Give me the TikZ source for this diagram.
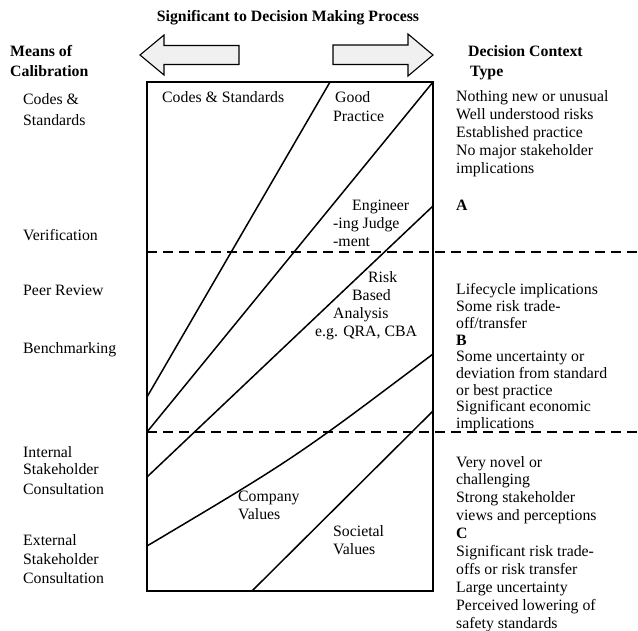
\documentclass[tikz,border=0pt]{standalone}
\usepackage{fontspec}
\setmainfont{Liberation Serif}
\begin{document}
\begin{tikzpicture}[x=1pt,y=-1pt,
  txt/.style={anchor=base west,inner sep=0pt,font=\fontsize{15.8}{18}\selectfont},
  hdr/.style={txt,font=\fontsize{15.8}{18}\selectfont\bfseries},
  frame/.style={line width=1.6pt},
  band/.style={line width=1.5pt},
  divider/.style={line width=1.5pt,dash pattern=on 10pt off 6pt},
  bigarrow/.style={draw,line width=1.1pt,fill=gray!12,line join=miter}]
\useasboundingbox (0,0) rectangle (638,631);

% title and the two direction arrows
\node[hdr,anchor=base] (title) at (288,22) {Significant to Decision Making Process};
\draw[bigarrow] (140,55) -- (164,35) -- (164,45.5) -- (239,45.5) -- (239,64.5)
  -- (164,64.5) -- (164,75) -- cycle;
\draw[bigarrow] (433,55) -- (408,34) -- (408,45) -- (333,45) -- (333,64.5)
  -- (408,64.5) -- (408,76) -- cycle;

% column headers
\node[hdr] (mc1) at (10,57) {Means of};
\node[hdr] (mc2) at (10,77) {Calibration};
\node[hdr] (dc1) at (468,57) {Decision Context};
\node[hdr] (dc2) at (470,77) {Type};

% main box and band boundaries
\coordinate (tl) at (147,82);
\coordinate (br) at (433,591);
\draw[band] (330,82) -- (147,397);
\draw[band] (433,82) -- (147,432);
\draw[band] (433,206) -- (147,477);
\draw[band] (433,354) .. controls (295,458) .. (147,546);
\draw[band] (433,411) -- (252,591);
\draw[divider] (147,252) -- (638,252);
\draw[divider] (147,432) -- (638,432);
\draw[frame] (tl) rectangle (br);

% band labels
\node[txt] (cs)  at (162,103) {Codes \& Standards};
\node[txt] (gp1) at (335,103) {Good};
\node[txt] (gp2) at (333,122) {Practice};
\node[txt] (ej1) at (352,211) {Engineer};
\node[txt] (ej2) at (333,229) {-ing Judge};
\node[txt] (ej3) at (333,247) {-ment};
\node[txt] (rb1) at (368,283) {Risk};
\node[txt] (rb2) at (352,301) {Based};
\node[txt] (rb3) at (333,319) {Analysis};
\node[txt] (rb4) at (315,337) {e.g. QRA, CBA};
\node[txt] (cv1) at (238,501) {Company};
\node[txt] (cv2) at (238,519) {Values};
\node[txt] (sv1) at (333,536) {Societal};
\node[txt] (sv2) at (333,554) {Values};

% means of calibration
\node[txt] (m1)  at (23,105) {Codes \&};
\node[txt] (m2)  at (23,126) {Standards};
\node[txt] (m3)  at (23,241) {Verification};
\node[txt] (m4)  at (23,296) {Peer Review};
\node[txt] (m5)  at (23,354) {Benchmarking};
\node[txt] (m6)  at (23,457) {Internal};
\node[txt] (m7)  at (23,475) {Stakeholder};
\node[txt] (m8)  at (23,494) {Consultation};
\node[txt] (m9)  at (23,545) {External};
\node[txt] (m10) at (23,564) {Stakeholder};
\node[txt] (m11) at (23,583) {Consultation};

% decision context type A
\node[txt] (a1) at (456,102) {Nothing new or unusual};
\node[txt] (a2) at (456,120) {Well understood risks};
\node[txt] (a3) at (456,138) {Established practice};
\node[txt] (a4) at (456,156) {No major stakeholder};
\node[txt] (a5) at (456,174) {implications};
\node[hdr] (aa) at (456,211) {A};

% decision context type B
\node[txt] (b1) at (456,295) {Lifecycle implications};
\node[txt] (b2) at (456,311.7) {Some risk trade-};
\node[txt] (b3) at (456,328.4) {off/transfer};
\node[hdr] (bb) at (456,345.1) {B};
\node[txt] (b4) at (456,361.8) {Some uncertainty or};
\node[txt] (b5) at (456,378.5) {deviation from standard};
\node[txt] (b6) at (456,395.2) {or best practice};
\node[txt] (b7) at (456,411.9) {Significant economic};
\node[txt] (b8) at (456,428.6) {implications};

% decision context type C
\node[txt] (c1)  at (456,467) {Very novel or};
\node[txt] (c2)  at (456,484.9) {challenging};
\node[txt] (c3)  at (456,502.8) {Strong stakeholder};
\node[txt] (c4)  at (456,520.7) {views and perceptions};
\node[hdr] (cc)  at (456,538.6) {C};
\node[txt] (c5)  at (456,556.5) {Significant risk trade-};
\node[txt] (c6)  at (456,574.4) {offs or risk transfer};
\node[txt] (c7)  at (456,592.3) {Large uncertainty};
\node[txt] (c8)  at (456,610.2) {Perceived lowering of};
\node[txt] (c9)  at (456,628.1) {safety standards};
\end{tikzpicture}
\end{document}
